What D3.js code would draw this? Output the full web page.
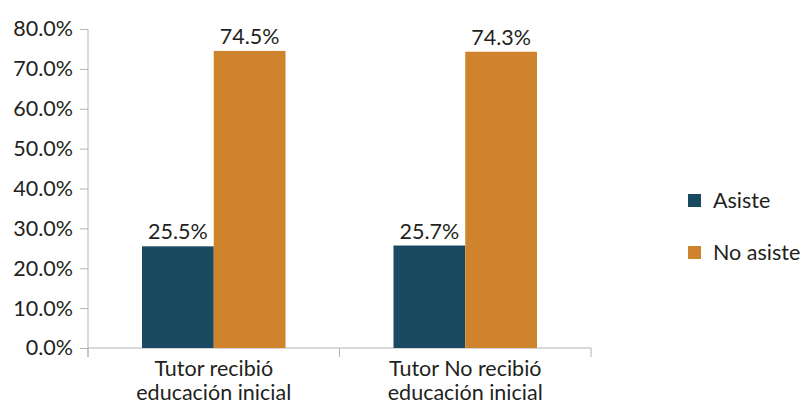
<!DOCTYPE html>
<html>
<head>
<meta charset="utf-8">
<script src="https://cdn.jsdelivr.net/npm/d3@7"></script>
<style>
  body { margin: 0; background: #fff; }
  text { font-family: Lato, "Open Sans", sans-serif; fill: #231f20; }
</style>
</head>
<body>
<div id="chart"></div>
<script>
var categories = [["Tutor recibió", "educación inicial"], ["Tutor No recibió", "educación inicial"]];
var seriesNames = ["Asiste", "No asiste"];
var asiste = [25.5, 25.7];
var noAsiste = [74.5, 74.3];
var yTicks = [0, 10, 20, 30, 40, 50, 60, 70, 80];
var colors = ["#1a4a62", "#cf832c"];

var width = 805, height = 406;
var x0 = 88, x1 = 591, yTop = 29, yZero = 348;
var fontSize = '21.5px';

var svg = d3.select('#chart').append('svg')
    .attr('width', width)
    .attr('height', height);

var x = d3.scaleBand()
    .domain(d3.range(categories.length))
    .range([x0, x1]);

var xInner = d3.scaleBand()
    .domain(d3.range(seriesNames.length))
    .range([54, x.bandwidth() - 54]);

var y = d3.scaleLinear()
    .domain([0, 80])
    .range([yZero, yTop]);

// y axis
var yAxis = svg.append('g')
    .attr('transform', 'translate(' + x0 + ',0)')
    .call(d3.axisLeft(y).tickValues(yTicks).tickSize(8).tickPadding(7)
      .tickFormat(function(d) { return d.toFixed(1) + '%'; }));
yAxis.select('.domain').remove();
yAxis.selectAll('line').attr('stroke', '#b3b3b3');
yAxis.selectAll('text').style('font-size', fontSize).style('fill', '#231f20')
    .attr('font-family', null);
yAxis.append('line')
    .attr('x1', 0).attr('x2', 0)
    .attr('y1', yTop).attr('y2', yZero + 9)
    .attr('stroke', '#b3b3b3');

// x axis line and ticks
svg.append('line')
    .attr('x1', x0).attr('x2', x1)
    .attr('y1', yZero).attr('y2', yZero)
    .attr('stroke', '#b3b3b3');
svg.selectAll('.xtick')
    .data(d3.range(categories.length + 1))
    .enter().append('line')
    .attr('class', 'xtick')
    .attr('x1', function(d) { return x0 + d * x.step(); })
    .attr('x2', function(d) { return x0 + d * x.step(); })
    .attr('y1', yZero).attr('y2', yZero + 9)
    .attr('stroke', '#b3b3b3');

var data = [asiste, noAsiste];

var groups = svg.selectAll('.group')
    .data(categories)
    .enter().append('g')
    .attr('class', 'group')
    .attr('transform', function(d, i) { return 'translate(' + x(i) + ',0)'; });

groups.each(function(c, i) {
  var g = d3.select(this);
  data.forEach(function(series, s) {
    g.append('rect')
      .attr('x', xInner(s))
      .attr('y', y(series[i]))
      .attr('width', xInner.bandwidth())
      .attr('height', yZero - y(series[i]))
      .attr('fill', colors[s]);
    g.append('text')
      .attr('x', xInner(s) + xInner.bandwidth() / 2)
      .attr('y', y(series[i]) - 7)
      .attr('text-anchor', 'middle')
      .style('font-size', fontSize)
      .text(series[i].toFixed(1) + '%');
  });
  g.selectAll('.cat')
    .data(c)
    .enter().append('text')
    .attr('class', 'cat')
    .attr('x', x.bandwidth() / 2)
    .attr('y', function(d, k) { return 376 + k * 24; })
    .attr('text-anchor', 'middle')
    .style('font-size', fontSize)
    .text(function(d) { return d; });
});

// legend
var legend = svg.selectAll('.legend')
    .data(seriesNames)
    .enter().append('g')
    .attr('class', 'legend')
    .attr('transform', function(d, i) { return 'translate(688,' + (194 + i * 52) + ')'; });
legend.append('rect')
    .attr('width', 13).attr('height', 13)
    .attr('fill', function(d, i) { return colors[i]; });
legend.append('text')
    .attr('x', 25).attr('y', 14)
    .style('font-size', fontSize)
    .text(function(d) { return d; });
</script>
</body>
</html>
